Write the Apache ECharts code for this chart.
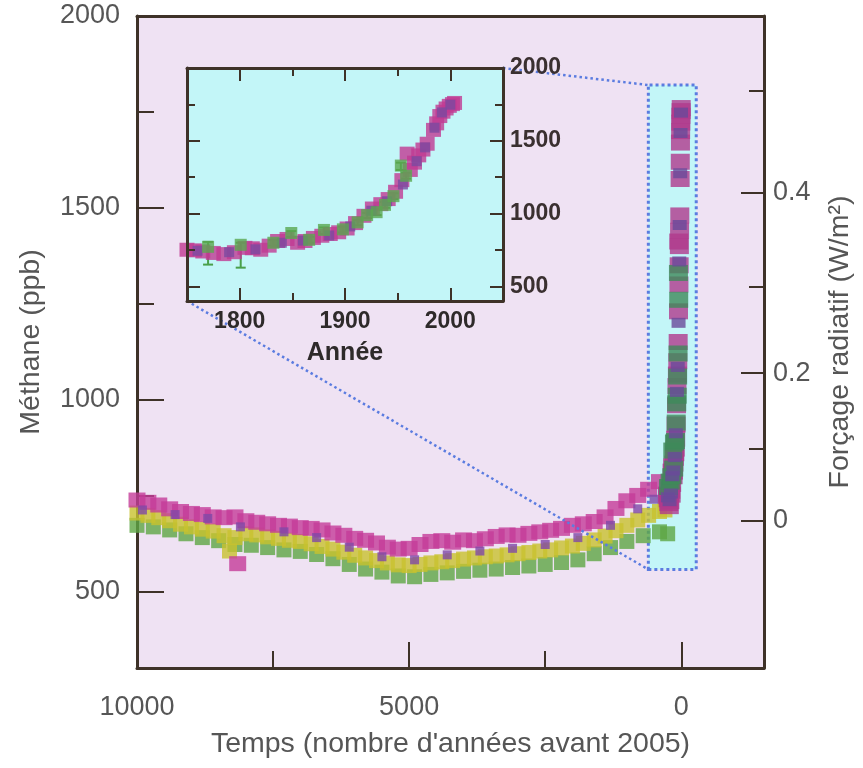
<!DOCTYPE html>
<html><head><meta charset="utf-8">
<script src="https://cdn.jsdelivr.net/npm/echarts@6/dist/echarts.min.js"></script>
<style>html,body{margin:0;padding:0;background:#fff}#c{width:863px;height:768px}</style>
</head><body><div id="c"></div>
<script>
// ---------- Main record (ages = years before 2005) ----------
const magentaAges = [10000,9800,9600,9400,9200,9000,8800,8600,8400,8200,8000,7800,7600,7400,7200,7000,6800,6600,6400,6200,6000,5800,5600,5400,5200,5000,4800,4600,4400,4200,4000,3800,3600,3400,3200,3000,2800,2600,2400,2200,2000,1800,1600,1400,1200,1000,800,600,400,8150];
const magentaVals = [738,732,725,715,708,703,700,694,692,694,684,680,676,672,670,666,664,660,652,646,638,633,626,615,610,612,622,630,632,628,634,632,637,643,647,646,651,655,659,664,672,676,682,694,716,736,750,766,786,572];
const yellowAges = [10000,9800,9600,9400,9200,9000,8800,8600,8400,8300,8200,8000,7800,7600,7400,7200,7000,6800,6600,6400,6200,6000,5800,5600,5400,5200,5000,4800,4600,4400,4200,4000,3800,3600,3400,3200,3000,2800,2600,2400,2200,2000,1800,1600,1400,1200,1000,800,600,400,300];
const yellowVals = [704,698,692,684,675,668,662,657,645,605,640,650,647,642,638,633,630,624,617,610,602,594,587,580,574,569,567,570,574,577,580,584,587,590,592,595,598,601,605,608,613,618,625,634,644,658,672,686,698,708,712];
const greenAges = [10000,9700,9400,9100,8800,8500,8200,7900,7600,7300,7000,6700,6400,6100,5800,5500,5200,4900,4600,4300,4000,3700,3400,3100,2800,2500,2200,1900,1600,1300,1000,700,400,250];
const greenVals = [672,668,660,650,640,632,622,620,614,608,604,596,585,570,558,550,540,538,544,548,552,555,558,562,566,570,575,582,598,614,630,645,655,650];
const purpleAges = [9900,9300,8700,8100,7300,6700,6100,5500,4900,4300,3700,3100,2500,1900,1300,800,500];
const purpleVals = [712,700,690,668,655,640,615,590,582,595,605,612,622,640,672,715,740];

// ---------- Recent record (calendar years AD) ----------
const recentMagentaYears = [1750,1757,1765,1775,1785,1795,1805,1812,1820,1828,1836,1845,1855,1862,1870,1878,1886,1894,1902,1910,1918,1926,1934,1941,1948,1954,1959,1962,1966,1970,1974,1978,1984,1987,1990,1993,1996,1999,2002,2004];
const recentMagentaVals  = [752,748,740,730,722,735,765,762,752,780,812,826,800,812,833,848,860,872,898,935,985,1035,1065,1100,1150,1230,1412,1300,1350,1400,1440,1480,1575,1620,1670,1700,1722,1740,1752,1760];
const recentGreenYears = [1770,1801,1832,1849,1866,1880,1898,1912,1921,1930,1938,1946,1953,1958];
const recentGreenVals  = [772,786,800,867,820,888,892,940,990,1010,1060,1120,1330,1260];
const recentGreenLow   = [650,629,780,840,800,860,870,920,970,990,1040,1100,1300,1240];
const recentGreenHigh  = [806,800,820,880,840,905,910,955,1005,1030,1080,1140,1350,1280];
const recentPurpleYears = [1760,1790,1815,1840,1860,1885,1905,1925,1940,1955,1968,1976,1985,1992,2000];
const recentPurpleVals  = [745,735,755,800,815,850,912,1020,1085,1200,1360,1455,1590,1695,1748];
const refYear = 2005;

// ---------- Axes / ticks ----------
const mainXMajor = [10000,5000,0];
const mainXMinor = [7500,2500];
const mainYMajor = [500,1000,1500,2000];
const mainYMinor = [750,1250,1750];
const forcingMajorLabels = ['0','0.2','0.4'];
const forcingMajorPpb = [685,1069,1539];
const forcingMinorPpb = [871,1294,1805];
const insetXMajor = [1800,1900,2000];
const insetXMinor = [1850,1950];
const insetYMajor = [500,1000,1500,2000];
const insetYMinor = [750,1250,1750];
const zoomBoxAges = [605,-275];
const zoomBoxPpb = [557,1820];

const FONT = "'Liberation Sans', Arial, sans-serif";
const AX = '#3e3228';
const TXT = '#565656';
const INK = '#2e2a2a';
const MAIN_BG = '#efe2f3';
const INSET_BG = '#c3f6f8';
const BLUE = '#5b7ce0';
const plain = v => String(v);

const pairs = (a, b) => a.map((v, i) => [v, b[i]]);
const toAges = (yrs, vals) => yrs.map((y, i) => [refYear - y, vals[i]]);

function tickAxis(extra) {
  return Object.assign({
    type: 'value', axisLine: {show: false, onZero:false}, splitLine: {show: false},
    axisLabel: {show: false}, axisTick: {show: false}
  }, extra);
}
const line = () => ({show:true, onZero:false, lineStyle:{color:AX, width:3}});
const tick = (len, vals) => ({show:true, inside:true, length:len, customValues:vals, lineStyle:{color:AX, width:2}});

const xAxis = [
  {type:'value', gridIndex:0, inverse:true, min:-1520, max:10000, position:'bottom',
   axisLine:line(), axisTick:tick(26, mainXMajor),
   axisLabel:{show:true, customValues:mainXMajor, margin:26, fontSize:27, color:TXT, fontFamily:FONT, formatter:plain},
   splitLine:{show:false},
   name:"Temps (nombre d'années avant 2005)", nameLocation:'middle', nameGap:62,
   nameTextStyle:{fontSize:28.5, color:TXT, fontFamily:FONT}},
  tickAxis({gridIndex:0, inverse:true, min:-1520, max:10000, position:'bottom', axisTick:tick(17, mainXMinor)}),
  tickAxis({gridIndex:0, inverse:true, min:-1520, max:10000, position:'top', axisLine:line()}),
  {type:'value', gridIndex:1, min:1750, max:2050, position:'bottom', z:12,
   axisLine:line(), axisTick:tick(13, insetXMajor),
   axisLabel:{show:true, customValues:insetXMajor, margin:9, fontSize:23, fontWeight:'bold', color:INK, fontFamily:FONT, formatter:plain},
   splitLine:{show:false},
   name:'Année', nameLocation:'middle', nameGap:40,
   nameTextStyle:{fontSize:25, fontWeight:'bold', color:INK, fontFamily:FONT}},
  tickAxis({gridIndex:1, min:1750, max:2050, position:'bottom', z:12, axisTick:tick(8, insetXMinor)}),
  tickAxis({gridIndex:1, min:1750, max:2050, position:'top', z:12, axisLine:line(), axisTick:tick(13, insetXMajor)}),
  tickAxis({gridIndex:1, min:1750, max:2050, position:'top', z:12, axisTick:tick(8, insetXMinor)})
];

const yAxis = [
  {type:'value', gridIndex:0, min:300, max:2000, position:'left',
   axisLine:line(), axisTick:tick(27, mainYMajor),
   axisLabel:{show:true, customValues:mainYMajor, margin:17, fontSize:27, color:TXT, fontFamily:FONT, formatter:plain},
   splitLine:{show:false},
   name:'Méthane (ppb)', nameLocation:'middle', nameRotate:90, nameGap:91,
   nameTextStyle:{fontSize:28.5, color:TXT, fontFamily:FONT}},
  tickAxis({gridIndex:0, min:300, max:2000, position:'left', axisTick:tick(17, mainYMinor)}),
  {type:'value', gridIndex:0, min:300, max:2000, position:'right',
   axisLine:line(), axisTick:tick(23, forcingMajorPpb),
   axisLabel:{show:true, customValues:forcingMajorPpb, margin:9, fontSize:27, color:TXT, fontFamily:FONT,
     formatter: v => { const i = forcingMajorPpb.indexOf(v); return i >= 0 ? forcingMajorLabels[i] : ''; }},
   splitLine:{show:false},
   name:'Forçage radiatif (W/m²)', nameLocation:'middle', nameRotate:90, nameGap:62,
   nameTextStyle:{fontSize:28.5, color:TXT, fontFamily:FONT}},
  tickAxis({gridIndex:0, min:300, max:2000, position:'right', axisTick:tick(15, forcingMinorPpb)}),
  tickAxis({gridIndex:1, min:400, max:2000, position:'left', z:12, axisLine:line(), axisTick:tick(13, [500,1000,1500])}),
  tickAxis({gridIndex:1, min:400, max:2000, position:'left', z:12, axisTick:tick(8, insetYMinor)}),
  {type:'value', gridIndex:1, min:400, max:2000, position:'right', z:12,
   axisLine:line(), axisTick:tick(13, [500,1000,1500]),
   axisLabel:{show:true, customValues:insetYMajor, margin:7, fontSize:23, fontWeight:'bold', color:'#3a3030', fontFamily:FONT, formatter:plain},
   splitLine:{show:false}},
  tickAxis({gridIndex:1, min:400, max:2000, position:'right', z:12, axisTick:tick(8, insetYMinor)})
];

const MAIN_SYM = [15, 15];
const mainCol = [19, 16];

const series = [
  {type:'scatter', xAxisIndex:0, yAxisIndex:0, data:[], z:1, silent:true,
   markArea:{silent:true, itemStyle:{color:INSET_BG, borderColor:BLUE, borderWidth:3, borderType:'dotted'},
     data:[[{coord:[zoomBoxAges[0], zoomBoxPpb[0]]}, {coord:[zoomBoxAges[1], zoomBoxPpb[1]]}]]}},
  {type:'scatter', xAxisIndex:0, yAxisIndex:0, z:3, symbol:'rect', symbolSize:MAIN_SYM,
   itemStyle:{color:'#5ea644'}, data:pairs(greenAges, greenVals)},
  {type:'scatter', xAxisIndex:0, yAxisIndex:0, z:3, symbol:'rect', symbolSize:MAIN_SYM,
   itemStyle:{color:'#c8c22e'}, data:pairs(yellowAges, yellowVals)},
  {type:'scatter', xAxisIndex:0, yAxisIndex:0, z:3, symbol:'rect', symbolSize:[17, 15],
   itemStyle:{color:'#c43c98'}, data:pairs(magentaAges, magentaVals)},
  {type:'scatter', xAxisIndex:0, yAxisIndex:0, z:3, symbol:'rect', symbolSize:9,
   itemStyle:{color:'#8048a8'}, data:pairs(purpleAges, purpleVals)},
  {type:'scatter', xAxisIndex:0, yAxisIndex:0, z:4, symbol:'rect', symbolSize:mainCol,
   itemStyle:{color:'#b03a8c'}, data:toAges(recentMagentaYears, recentMagentaVals)},
  {type:'scatter', xAxisIndex:0, yAxisIndex:0, z:4, symbol:'rect', symbolSize:mainCol,
   itemStyle:{color:'#3f8a5a'}, data:toAges(recentGreenYears, recentGreenVals)},
  {type:'scatter', xAxisIndex:0, yAxisIndex:0, z:4, symbol:'rect', symbolSize:[14, 10],
   itemStyle:{color:'#6a4a9a'}, data:toAges(recentPurpleYears, recentPurpleVals)},
  // inset
  {type:'custom', xAxisIndex:3, yAxisIndex:4, z:11, silent:true,
   data: recentGreenYears.map((y, i) => [y, recentGreenLow[i], recentGreenHigh[i]]),
   renderItem: (params, api) => {
     const lo = api.coord([api.value(0), api.value(1)]);
     const hi = api.coord([api.value(0), api.value(2)]);
     const st = {stroke:'#4aa04a', lineWidth:2};
     return {type:'group', children:[
       {type:'line', shape:{x1:lo[0], y1:lo[1], x2:hi[0], y2:hi[1]}, style:st},
       {type:'line', shape:{x1:lo[0]-5, y1:lo[1], x2:lo[0]+5, y2:lo[1]}, style:st},
       {type:'line', shape:{x1:hi[0]-5, y1:hi[1], x2:hi[0]+5, y2:hi[1]}, style:st}
     ]};
   }},
  {type:'scatter', xAxisIndex:3, yAxisIndex:4, z:11, symbol:'rect', symbolSize:[15, 14],
   itemStyle:{color:'#c03a92'}, data:pairs(recentMagentaYears, recentMagentaVals)},
  {type:'scatter', xAxisIndex:3, yAxisIndex:4, z:11, symbol:'rect', symbolSize:10,
   itemStyle:{color:'#7a4aa0'}, data:pairs(recentPurpleYears, recentPurpleVals)},
  {type:'scatter', xAxisIndex:3, yAxisIndex:4, z:11, symbol:'rect', symbolSize:12,
   itemStyle:{color:'#5aa850'}, data:pairs(recentGreenYears, recentGreenVals)}
];

const chart = echarts.init(document.getElementById('c'), null, {renderer:'canvas'});
chart.setOption({
  backgroundColor:'#ffffff',
  animation:false,
  textStyle:{fontFamily:FONT},
  grid:[
    {left:137, right:98, top:16, bottom:100, show:true, backgroundColor:MAIN_BG, borderWidth:0, z:0},
    {left:187, top:68, width:316, height:233, show:true, backgroundColor:INSET_BG, borderWidth:0, z:10}
  ],
  xAxis, yAxis, series
});

const insTR = chart.convertToPixel({xAxisIndex:3, yAxisIndex:4}, [2050, 2000]);
const insBL = chart.convertToPixel({xAxisIndex:3, yAxisIndex:4}, [1750, 400]);
const boxTL = chart.convertToPixel({xAxisIndex:0, yAxisIndex:0}, [zoomBoxAges[0], zoomBoxPpb[1]]);
const boxBL = chart.convertToPixel({xAxisIndex:0, yAxisIndex:0}, [zoomBoxAges[0], zoomBoxPpb[0]]);
const ls = {stroke:BLUE, lineWidth:2.5, lineDash:[2.5, 3]};
chart.setOption({graphic:[
  {type:'line', z:6, silent:true, shape:{x1:insTR[0], y1:insTR[1], x2:boxTL[0], y2:boxTL[1]}, style:ls},
  {type:'line', z:6, silent:true, shape:{x1:insBL[0], y1:insBL[1], x2:boxBL[0], y2:boxBL[1]}, style:ls}
]});
</script></body></html>
